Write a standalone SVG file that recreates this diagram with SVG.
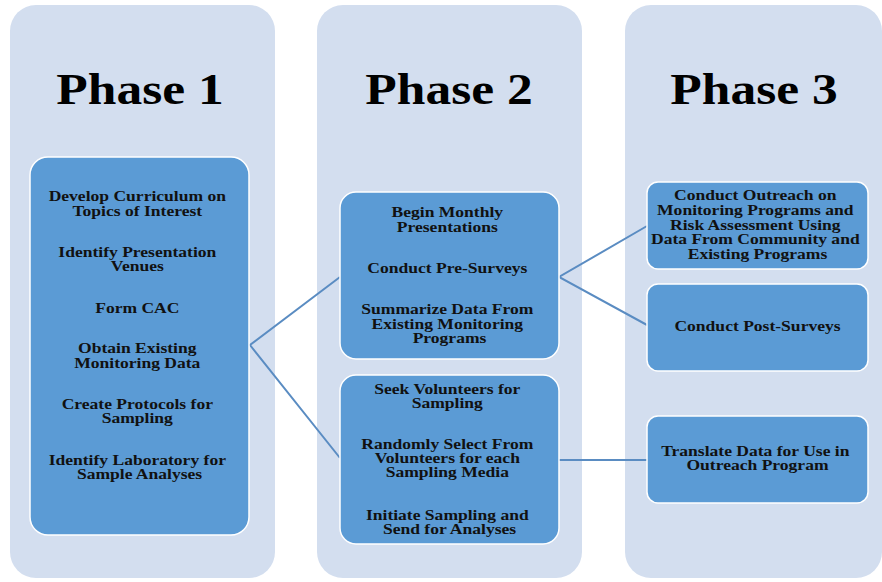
<svg xmlns="http://www.w3.org/2000/svg" width="882" height="582" viewBox="0 0 882 582">
<style>
.col{fill:#D3DEEF;}
.box{fill:#5B9BD5;stroke:#FFFFFF;stroke-width:1.5;}
.title{font-family:"Liberation Serif","Times New Roman",serif;font-weight:bold;font-size:44px;fill:#000;text-anchor:middle;}
.t{font-family:"Liberation Serif","Times New Roman",serif;font-weight:bold;font-size:15px;fill:#111;text-anchor:middle;}
.conn{fill:none;stroke:#5A8CC2;stroke-width:2;}
</style>
<rect width="882" height="582" fill="#FFFFFF"/>
<g id="phase1">
<rect class="col" x="10" y="5" width="265" height="573" rx="26"/>
<text class="title" transform="translate(140 0) scale(1.17 1)"><tspan x="0" y="104">Phase 1</tspan></text>
</g>
<g id="phase2">
<rect class="col" x="317" y="5" width="265" height="573" rx="26"/>
<text class="title" transform="translate(449 0) scale(1.17 1)"><tspan x="0" y="104">Phase 2</tspan></text>
</g>
<g id="phase3">
<rect class="col" x="625" y="5" width="257" height="573" rx="26"/>
<text class="title" transform="translate(754 0) scale(1.17 1)"><tspan x="0" y="104">Phase 3</tspan></text>
</g>
<g id="connectors">
<polyline class="conn" points="340,277 250,345 340,458"/>
<polyline class="conn" points="647,226 559,277 647,325"/>
<line class="conn" x1="559" y1="460" x2="647" y2="460"/>
</g>
<g id="p1-tasks">
<rect class="box" x="30" y="157" width="219" height="378" rx="18"/>
<text class="t" transform="translate(139.5 0) scale(1.17 1)">
<tspan x="0" y="201.5">Develop Curriculum on</tspan>
<tspan x="0" y="216">Topics of Interest</tspan>
<tspan x="0" y="257">Identify Presentation</tspan>
<tspan x="0" y="271">Venues</tspan>
<tspan x="0" y="313">Form CAC</tspan>
<tspan x="0" y="353">Obtain Existing</tspan>
<tspan x="0" y="368">Monitoring Data</tspan>
<tspan x="0" y="409">Create Protocols for</tspan>
<tspan x="0" y="423">Sampling</tspan>
<tspan x="0" y="465">Identify Laboratory for</tspan>
<tspan x="0" y="479">Sample Analyses</tspan>
</text>
</g>
<g id="p2-box1">
<rect class="box" x="340" y="192" width="219" height="167" rx="16"/>
<text class="t" transform="translate(449.5 0) scale(1.17 1)">
<tspan x="0" y="217">Begin Monthly</tspan>
<tspan x="0" y="232">Presentations</tspan>
<tspan x="0" y="273">Conduct Pre-Surveys</tspan>
<tspan x="0" y="314">Summarize Data From</tspan>
<tspan x="0" y="329">Existing Monitoring</tspan>
<tspan x="0" y="343">Programs</tspan>
</text>
</g>
<g id="p2-box2">
<rect class="box" x="340" y="375" width="219" height="169" rx="16"/>
<text class="t" transform="translate(449.5 0) scale(1.17 1)">
<tspan x="0" y="394">Seek Volunteers for</tspan>
<tspan x="0" y="408">Sampling</tspan>
<tspan x="0" y="449">Randomly Select From</tspan>
<tspan x="0" y="463">Volunteers for each</tspan>
<tspan x="0" y="477">Sampling Media</tspan>
<tspan x="0" y="520">Initiate Sampling and</tspan>
<tspan x="0" y="534">Send for Analyses</tspan>
</text>
</g>
<g id="p3-box1">
<rect class="box" x="647" y="182" width="221" height="87" rx="11"/>
<text class="t" transform="translate(757.5 0) scale(1.17 1)">
<tspan x="0" y="200.5">Conduct Outreach on</tspan>
<tspan x="0" y="215">Monitoring Programs and</tspan>
<tspan x="0" y="230">Risk Assessment Using</tspan>
<tspan x="0" y="244.5">Data From Community and</tspan>
<tspan x="0" y="259">Existing Programs</tspan>
</text>
</g>
<g id="p3-box2">
<rect class="box" x="647" y="284" width="221" height="87" rx="11"/>
<text class="t" transform="translate(757.5 0) scale(1.17 1)"><tspan x="0" y="331">Conduct Post-Surveys</tspan></text>
</g>
<g id="p3-box3">
<rect class="box" x="647" y="416" width="221" height="87" rx="11"/>
<text class="t" transform="translate(757.5 0) scale(1.17 1)">
<tspan x="0" y="456">Translate Data for Use in</tspan>
<tspan x="0" y="470">Outreach Program</tspan>
</text>
</g>
</svg>
